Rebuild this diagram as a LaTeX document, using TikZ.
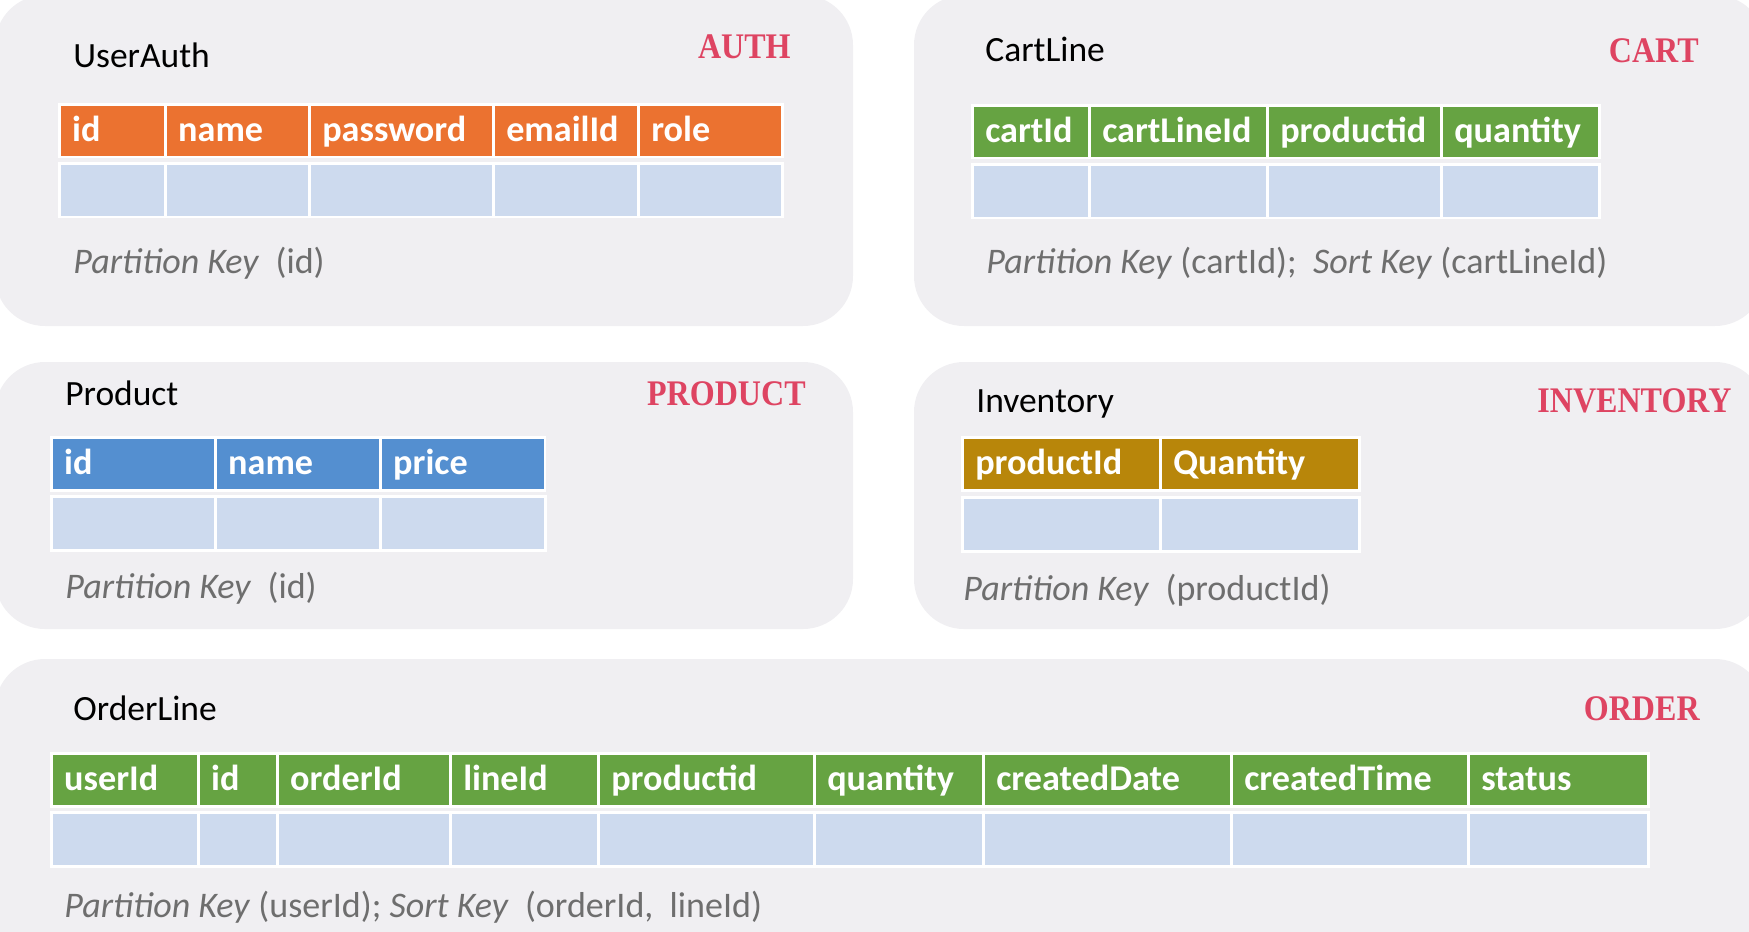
\documentclass[tikz,border=0pt]{standalone}
\usepackage{fontspec}
\setmainfont{Carlito}
\newfontfamily\stampfont[FakeStretch=0.89]{Liberation Serif}
\usetikzlibrary{positioning}

\definecolor{panelgray}{HTML}{F0EFF2}
\definecolor{authorange}{HTML}{EB7230}
\definecolor{cartgreen}{HTML}{66A342}
\definecolor{prodblue}{HTML}{548FD0}
\definecolor{invgold}{HTML}{B8860A}
\definecolor{rowblue}{HTML}{CDDAEE}
\definecolor{stampred}{HTML}{DE4462}
\definecolor{keygray}{HTML}{6E6E6E}

\begin{document}
\begin{tikzpicture}[x=0.02cm, y=-0.02cm,
    panel/.style={fill=panelgray, rounded corners=1cm},
    title/.style={anchor=base west, inner sep=0pt, font=\fontsize{20.2}{24}\selectfont},
    stamp/.style={anchor=base east, inner sep=0pt, text=stampred,
      font=\stampfont\bfseries\fontsize{20.5}{24}\selectfont},
    keytext/.style={anchor=base west, inner sep=0pt, text=keygray,
      font=\fontsize{20.5}{24}\selectfont},
    hcell/.style={anchor=north west, draw=white, line width=0.05cm,
      inner xsep=0.26cm, inner ysep=0pt, minimum height=1.06cm,
      text=white, font=\bfseries\fontsize{20.6}{24}\selectfont,
      align=left, text height=1.2em, text depth=0em},
    dcell/.style={anchor=north west, draw=white, line width=0.05cm,
      fill=rowblue, inner sep=0pt, minimum height=1.08cm}
  ]
  \useasboundingbox (0,0) rectangle (1749,931);

  % panels
  \fill[panel] (-5,-5) rectangle (853,326);
  \fill[panel] (914,-5) rectangle (1765,326);
  \fill[panel] (-5,362) rectangle (853,629);
  \fill[panel] (914,362) rectangle (1765,629);
  \fill[panel] (-5,659) rectangle (1765,960);

  % UserAuth
  \node[title] (auth-title) at (73,67) {UserAuth};
  \node[stamp] (auth-stamp) at (791,58) {AUTH};
  \foreach \xa/\xb/\col [count=\i] in {58/164/id, 164/308/name, 308/492/password, 492/637/emailId, 637/781/role} {
    \node[hcell, fill=authorange, text width={(\xb-\xa-26)*0.02cm}] (auth-h\i) at (\xa,103) {\col};
    \node[dcell, minimum width={(\xb-\xa)*0.02cm}] (auth-d\i) at (\xa,162) {};
  }
  \node[keytext] (auth-key) at (73,273) {\textit{Partition Key}\ \ (id)};

  % CartLine
  \node[title] (cart-title) at (985,61) {CartLine};
  \node[stamp] (cart-stamp) at (1699,62) {CART};
  \foreach \xa/\xb/\col [count=\i] in {971/1088/cartId, 1088/1266/cartLineId, 1266/1440/productid, 1440/1598/quantity} {
    \node[hcell, fill=cartgreen, text width={(\xb-\xa-26)*0.02cm}] (cart-h\i) at (\xa,104) {\col};
    \node[dcell, minimum width={(\xb-\xa)*0.02cm}] (cart-d\i) at (\xa,163) {};
  }
  \node[keytext] (cart-key) at (986,273) {\textit{Partition Key} (cartId);\ \ \textit{Sort Key} (cartLineId)};

  % Product
  \node[title] (prod-title) at (65,405) {Product};
  \node[stamp] (prod-stamp) at (806,405) {PRODUCT};
  \foreach \xa/\xb/\col [count=\i] in {50/214/id, 214/379/name, 379/544/price} {
    \node[hcell, fill=prodblue, text width={(\xb-\xa-26)*0.02cm}] (prod-h\i) at (\xa,436) {\col};
    \node[dcell, minimum width={(\xb-\xa)*0.02cm}] (prod-d\i) at (\xa,495) {};
  }
  \node[keytext] (prod-key) at (65,598) {\textit{Partition Key}\ \ (id)};

  % Inventory
  \node[title] (inv-title) at (976,412) {Inventory};
  \node[stamp] (inv-stamp) at (1732,412) {INVENTORY};
  \foreach \xa/\xb/\col [count=\i] in {961/1159/productId, 1159/1358/Quantity} {
    \node[hcell, fill=invgold, text width={(\xb-\xa-26)*0.02cm}] (inv-h\i) at (\xa,436) {\col};
    \node[dcell, minimum width={(\xb-\xa)*0.02cm}] (inv-d\i) at (\xa,496) {};
  }
  \node[keytext] (inv-key) at (963,600) {\textit{Partition Key}\ \ (productId)};

  % OrderLine
  \node[title] (order-title) at (73,720) {OrderLine};
  \node[stamp] (order-stamp) at (1700,720) {ORDER};
  \foreach \xa/\xb/\col [count=\i] in {50/197/userId, 197/276/id, 276/449/orderId, 449/597/lineId, 597/813/productid, 813/982/quantity, 982/1230/createdDate, 1230/1467/createdTime, 1467/1647/status} {
    \node[hcell, fill=cartgreen, text width={(\xb-\xa-26)*0.02cm}] (order-h\i) at (\xa,752) {\col};
    \node[dcell, minimum width={(\xb-\xa)*0.02cm}] (order-d\i) at (\xa,811) {};
  }
  \node[keytext] (order-key) at (64,917) {\textit{Partition Key} (userId); \textit{Sort Key}\ \ (orderId,\ \ lineId)};
\end{tikzpicture}
\end{document}
